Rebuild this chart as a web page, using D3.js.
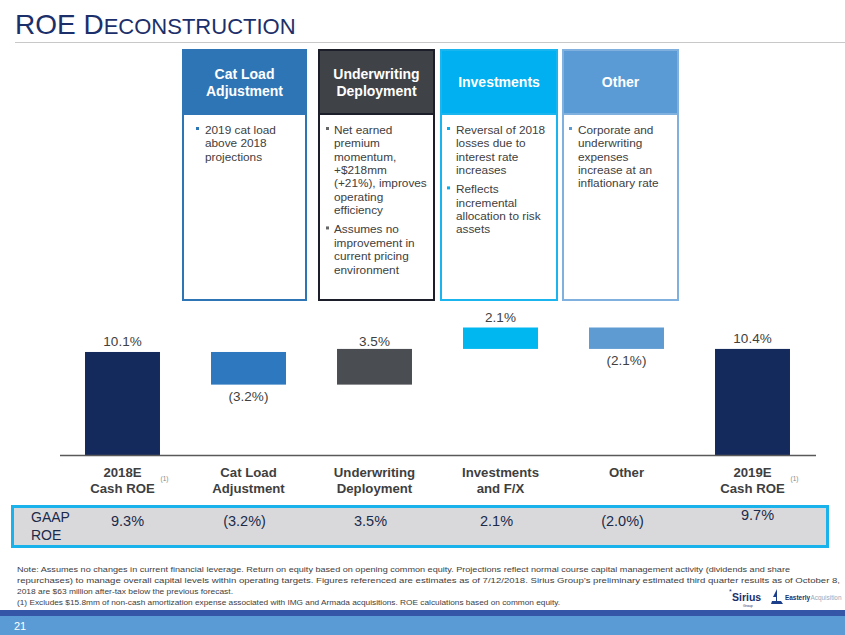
<!DOCTYPE html>
<html><head><meta charset="utf-8">
<script src="https://cdn.jsdelivr.net/npm/d3@7"></script>
<style>body{margin:0;background:#fff}svg{display:block}text{font-family:"Liberation Sans",Arial,sans-serif}</style>
</head><body>
<svg id="c" width="845" height="635"></svg>
<script>
// ---- data ----
const categories = ["2018E|Cash ROE","Cat Load|Adjustment","Underwriting|Deployment","Investments|and F/X","Other","2019E|Cash ROE"];
const cashRoe = [10.1, -3.2, 3.5, 2.1, -2.1, 10.4];
const barKind = ["total","delta","delta","delta","delta","total"];
const barLabels = ["10.1%","(3.2%)","3.5%","2.1%","(2.1%)","10.4%"];
const footRef = [true,false,false,false,false,true];
const gaapLabels = ["9.3%","(3.2%)","3.5%","2.1%","(2.0%)","9.7%"];
const barColors = ["#142a5c","#2e78bf","#4a4d52","#00b8ef","#5e9bd2","#142a5c"];
const boxTitles = ["Cat Load|Adjustment","Underwriting|Deployment","Investments","Other"];
const boxBullets = [
  [["2019 cat load","above 2018","projections"]],
  [["Net earned","premium","momentum,","+$218mm","(+21%), improves","operating","efficiency"],["Assumes no","improvement in","current pricing","environment"]],
  [["Reversal of 2018","losses due to","interest rate","increases"],["Reflects","incremental","allocation to risk","assets"]],
  [["Corporate and","underwriting","expenses","increase at an","inflationary rate"]]
];
const footnotes = [
  "Note: Assumes no changes in current financial leverage. Return on equity based on opening common equity. Projections reflect normal course capital management activity (dividends and share",
  "repurchases) to manage overall capital levels within operating targets. Figures referenced are estimates as of 7/12/2018. Sirius Group\u2019s preliminary estimated third quarter results as of October 8,",
  "2018 are $63 million after-tax below the previous forecast.",
  "(1) Excludes  $15.8mm of non-cash amortization expense associated with IMG and Armada acquisitions. ROE calculations based on common equity."
];
const pageNumber = "21";

// ---- styles ----
const boxStyle = [
  {x:183,w:123,head:"#2e75b6",border:"#2e75b6",bullet:"#2e75b6",bx:13,tx:22},
  {x:319,w:115,head:"#3f4347",border:"#1c1f2a",bullet:"#666",bx:7,tx:15},
  {x:441,w:116,head:"#00b0f0",border:"#1ab4ee",bullet:"#00b0f0",bx:6,tx:15},
  {x:563,w:115,head:"#5b9bd5",border:"#7fb0de",bullet:"#5b9bd5",bx:6,tx:15}
];

const svg = d3.select("#c");

// title
const title = svg.append("text").attr("x",15).attr("y",34).attr("fill","#1b2f6b");
title.append("tspan").attr("font-size",28).text("ROE D");
title.append("tspan").attr("font-size",22).text("ECONSTRUCTION");
svg.append("line").attr("x1",15).attr("x2",845).attr("y1",42.5).attr("y2",42.5).attr("stroke","#c8c8c8").attr("stroke-width",1);

// boxes
boxTitles.forEach((t,i)=>{
  const s = boxStyle[i];
  const g = svg.append("g");
  g.append("rect").attr("x",s.x).attr("y",50).attr("width",s.w).attr("height",250)
    .attr("fill","#fff").attr("stroke",s.border).attr("stroke-width",2);
  g.append("rect").attr("x",s.x).attr("y",50).attr("width",s.w).attr("height",64)
    .attr("fill",s.head).attr("stroke",s.border).attr("stroke-width",2);
  const lines = t.split("|");
  const cy = 82;
  lines.forEach((l,j)=>{
    g.append("text").attr("x",s.x+s.w/2).attr("y",cy + (j-(lines.length-1)/2)*17 + 5)
      .attr("text-anchor","middle").attr("fill","#fff").attr("font-weight","bold").attr("font-size",14).text(l);
  });
  let y = 134;
  boxBullets[i].forEach((b,k)=>{
    if(k>0) y += 6;
    g.append("rect").attr("x",s.x+s.bx).attr("y",y-7).attr("width",3).attr("height",3).attr("fill",s.bullet);
    b.forEach(l=>{
      g.append("text").attr("x",s.x+s.tx).attr("y",y).attr("font-size",11.8).attr("fill","#404040").text(l);
      y += 13.35;
    });
  });
});

// waterfall
const x = d3.scaleBand().domain(categories).range([59.5,815.5]).paddingInner(0.405).paddingOuter(0.2025);
const y = d3.scaleLinear().domain([0,12]).range([455,332.6]);
let cum = 0;
const bars = cashRoe.map((v,i)=>{
  let y0,y1;
  if(barKind[i]==="total"){ y0=0; y1=v; cum=v; }
  else { y0=cum; y1=cum+v; cum=y1; }
  return {cat:categories[i],v,lo:Math.min(y0,y1),hi:Math.max(y0,y1),i};
});
svg.selectAll("rect.bar").data(bars).join("rect").attr("class","bar")
  .attr("x",d=>x(d.cat)).attr("width",x.bandwidth())
  .attr("y",d=>y(d.hi)).attr("height",d=>y(d.lo)-y(d.hi))
  .attr("fill",d=>barColors[d.i]);
svg.selectAll("text.bl").data(bars).join("text").attr("class","bl")
  .attr("x",d=>x(d.cat)+x.bandwidth()/2)
  .attr("y",d=>d.v<0 ? y(d.lo)+16 : y(d.hi)-(d.i===2?3:6))
  .attr("text-anchor","middle").attr("font-size",13.5).attr("fill","#404040")
  .text(d=>barLabels[d.i]);
// axis baseline
const ax = svg.append("g").attr("transform","translate(0,455)")
  .call(d3.axisBottom(x).tickSize(0).tickFormat(""));
ax.select(".domain").attr("stroke","#595959").attr("stroke-width",1.5);

// category labels
categories.forEach((c,i)=>{
  const lines = c.split("|");
  const cx = x(c)+x.bandwidth()/2;
  lines.forEach((l,j)=>{
    svg.append("text").attr("x",cx).attr("y",477+j*16).attr("text-anchor","middle")
      .attr("font-size",13.2).attr("font-weight","bold").attr("fill","#3f3f3f").text(l);
  });
  if(footRef[i]){
    svg.append("text").attr("x",cx+38).attr("y",481).attr("font-size",6.5).attr("fill","#888").text("(1)");
  }
});

// GAAP row
svg.append("rect").attr("x",12.5).attr("y",506.5).attr("width",815).attr("height",40)
  .attr("fill","#d9d9db").attr("stroke","#19b2ea").attr("stroke-width",3);
svg.append("text").attr("x",31).attr("y",522).attr("font-size",14).attr("fill","#1b2a4a").text("GAAP");
svg.append("text").attr("x",31).attr("y",540).attr("font-size",14).attr("fill","#1b2a4a").text("ROE");
gaapLabels.forEach((g,i)=>{
  svg.append("text").attr("x",x(categories[i])+x.bandwidth()/2+(i===0?5:(i===5?5:-4)))
    .attr("y",i===5?520:526).attr("text-anchor","middle").attr("font-size",14.5).attr("fill","#1b2a4a").text(g);
});

// footnotes
const fnW = [773, 823, 216, 543];
footnotes.forEach((f,i)=>{
  svg.append("text").attr("x",17).attr("y",572+i*11).attr("font-size",7.6).attr("fill","#404040")
    .attr("textLength",fnW[i]).attr("lengthAdjust","spacingAndGlyphs").text(f);
});

// logos
svg.append("text").attr("x",732).attr("y",601).attr("font-family","DejaVu Serif, serif").attr("font-size",10.5)
  .attr("font-weight","bold").attr("fill","#1b2f6b").text("Sirius");
svg.append("text").attr("x",729).attr("y",594).attr("font-size",7).attr("fill","#1b2f6b").text("*");
svg.append("text").attr("x",743).attr("y",606.5).attr("font-size",3.5).attr("fill","#1b2f6b").text("Group");
svg.append("path").attr("d","M771,604 L783,604 L781,601 L777,601 L777,589 L773,597 L776,597 L776,601 L772,601 Z").attr("fill","#1b3f8b");
svg.append("text").attr("x",785).attr("y",600).attr("font-size",6.5).attr("font-weight","bold").attr("fill","#1b2f6b")
  .attr("textLength",25).attr("lengthAdjust","spacingAndGlyphs").text("Easterly");
svg.append("text").attr("x",810.5).attr("y",600).attr("font-size",6.5).attr("fill","#9aa7b8")
  .attr("textLength",31).attr("lengthAdjust","spacingAndGlyphs").text("Acquisition");

// footer
svg.append("rect").attr("x",0).attr("y",610).attr("width",845).attr("height",6).attr("fill","#3556a6");
svg.append("rect").attr("x",0).attr("y",616).attr("width",845).attr("height",19).attr("fill","#5b9bd5");
svg.append("text").attr("x",14).attr("y",630).attr("font-size",11).attr("fill","#fff").text(pageNumber);
</script>
</body></html>
